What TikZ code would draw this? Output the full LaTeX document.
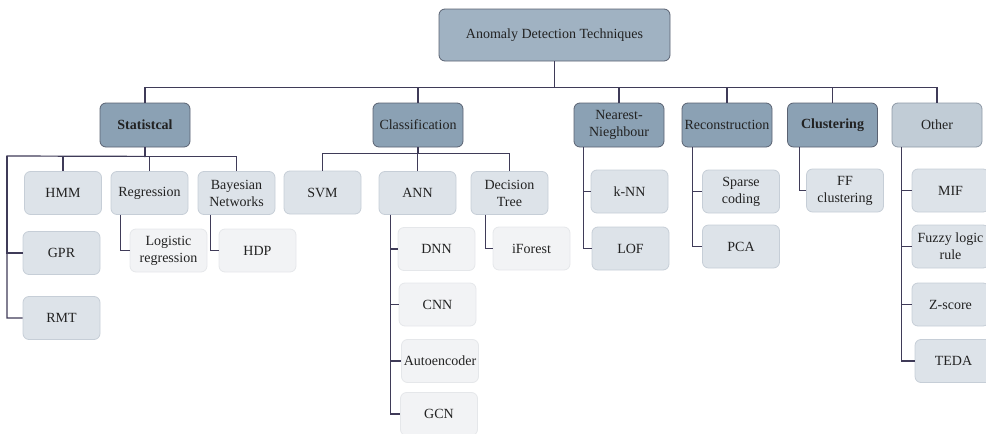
\documentclass[tikz,border=0pt]{standalone}
\usepackage{fontspec}
\setmainfont{Liberation Serif}
\definecolor{rootfill}{HTML}{A0B2C2}
\definecolor{catfill}{HTML}{8BA1B4}
\definecolor{catdraw}{HTML}{5A6272}
\definecolor{othfill}{HTML}{C1CCD6}
\definecolor{othdraw}{HTML}{8E99A6}
\definecolor{midfill}{HTML}{DDE3E9}
\definecolor{middraw}{HTML}{C6CED7}
\definecolor{ltfill}{HTML}{F2F3F5}
\definecolor{ltdraw}{HTML}{E5E7EA}
\definecolor{linecol}{HTML}{3F3B58}
\definecolor{txt}{HTML}{222222}
\tikzset{
  basebox/.style={rounded corners=6pt, align=center, inner sep=0pt, text=txt, line width=0.8pt,
    font=\fontsize{14}{17}\selectfont},
  rootbox/.style={basebox, fill=rootfill, draw=catdraw, minimum width=231pt, minimum height=52pt},
  catbox/.style={basebox, fill=catfill, draw=catdraw, minimum width=90pt, minimum height=44pt},
  othbox/.style={basebox, fill=othfill, draw=othdraw, minimum width=90pt, minimum height=44pt},
  midbox/.style={basebox, fill=midfill, draw=middraw, minimum width=77pt, minimum height=43pt},
  ltbox/.style={basebox, fill=ltfill, draw=ltdraw, minimum width=77pt, minimum height=43pt},
  conn/.style={draw=linecol, line width=1.2pt}
}
\begin{document}
\begin{tikzpicture}[x=1pt,y=-1pt]
\useasboundingbox (0,0) rectangle (986,434);
\clip (0,0) rectangle (986,434);
% root
\node[rootbox] (root) at (554.5,35) {Anomaly Detection Techniques};
% categories
\node[catbox] (stat) at (145,125) {\bfseries Statistcal};
\node[catbox] (class) at (418,125) {Classification};
\node[catbox] (nn) at (619,125) {Nearest-\\Nieghbour};
\node[catbox] (recon) at (727,125) {Reconstruction};
\node[catbox] (clust) at (832.5,125) {\bfseries Clustering};
\node[othbox] (other) at (937,125) {Other};
% statistical children
\node[midbox] (hmm) at (63,193) {HMM};
\node[midbox] (reg) at (149.5,193) {Regression};
\node[midbox] (bay) at (236.5,193) {Bayesian\\Networks};
\node[midbox] (gpr) at (61.5,253) {GPR};
\node[midbox] (rmt) at (61.5,318) {RMT};
\node[ltbox] (logreg) at (168.5,250.5) {Logistic\\regression};
\node[ltbox] (hdp) at (257.5,250.5) {HDP};
% classification children
\node[midbox] (svm) at (322.5,192.5) {SVM};
\node[midbox] (ann) at (417.5,193) {ANN};
\node[midbox] (dt) at (509.5,193) {Decision\\Tree};
\node[ltbox] (dnn) at (436.5,249) {DNN};
\node[ltbox] (ifor) at (531.5,248.5) {iForest};
\node[ltbox] (cnn) at (437.5,304.5) {CNN};
\node[ltbox] (auto) at (440,361) {Autoencoder};
\node[ltbox] (gcn) at (439,414) {GCN};
% nearest neighbour
\node[midbox] (knn) at (629.5,191.5) {k-NN};
\node[midbox] (lof) at (630.5,248.5) {LOF};
% reconstruction
\node[midbox] (sparse) at (741,191.5) {Sparse\\coding};
\node[midbox] (pca) at (741,246.5) {PCA};
% clustering
\node[midbox] (ff) at (845,190.5) {FF\\clustering};
% other
\node[midbox] (mif) at (950.5,190.5) {MIF};
\node[midbox] (fuzzy) at (950.5,246.5) {Fuzzy logic\\rule};
\node[midbox] (zs) at (950.5,304.5) {Z-score};
\node[midbox] (teda) at (953.5,361) {TEDA};
% root connectors
\foreach \n in {stat,class,nn,recon,clust,other}
  \draw[conn] (root.south) -- ++(0,26) -| (\n.north);
% statistical connectors
\coordinate (sl) at (7,156);
\foreach \n in {hmm,reg,bay}
  \draw[conn] (stat.south) -- ++(0,9) -| (\n.north);
\draw[conn] (stat.south) -- ++(0,9) -- (sl) |- (rmt.west);
\draw[conn] (sl) |- (gpr.west);
\draw[conn] ([xshift=10pt]reg.south west) |- (logreg.west);
\draw[conn] ([xshift=13pt]bay.south west) |- (hdp.west);
% classification connectors
\foreach \n in {svm,ann,dt}
  \draw[conn] (class.south) -- ++(0,6) -| (\n.north);
\foreach \n in {dnn,cnn,auto,gcn}
  \draw[conn] ([xshift=12pt]ann.south west) |- (\n.west);
\draw[conn] ([xshift=15pt]dt.south west) |- (ifor.west);
% nn
\foreach \n in {knn,lof}
  \draw[conn] ([xshift=10pt]nn.south west) |- (\n.west);
\foreach \n in {sparse,pca}
  \draw[conn] ([xshift=11pt]recon.south west) |- (\n.west);
\draw[conn] ([xshift=12pt]clust.south west) |- (ff.west);
\foreach \n in {mif,fuzzy,zs,teda}
  \draw[conn] ([xshift=10pt]other.south west) |- (\n.west);
\end{tikzpicture}
\end{document}
